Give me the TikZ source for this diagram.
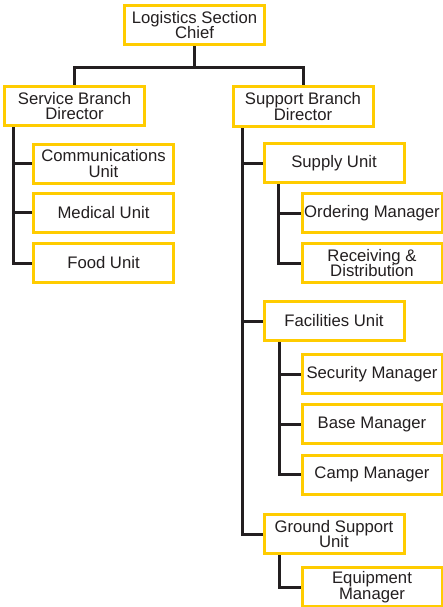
\documentclass[tikz,border=0pt]{standalone}
\usepackage{fontspec}
\setmainfont{Liberation Sans}
\usetikzlibrary{backgrounds}
\definecolor{boxyellow}{HTML}{FFCC00}
\definecolor{ink}{HTML}{231F20}
\tikzset{
  unitbox/.style={draw=boxyellow, line width=3pt, fill=white, minimum width=140pt, minimum height=39pt, inner sep=0pt, align=center, text=ink, font=\fontsize{16.7}{15.7}\selectfont},
  link/.style={draw=ink, line width=3pt}
}
\begin{document}
\begin{tikzpicture}[x=1pt,y=-1pt]
\useasboundingbox (0,0) rectangle (443,607);
\node[unitbox] (chief) at (194.5,25) {Logistics Section\\Chief};
\node[unitbox] (service) at (74.5,106) {Service Branch\\Director};
\node[unitbox] (support) at (303,106.5) {Support Branch\\Director};
\node[unitbox] (comm) at (103.5,163.5) {Communications\\Unit};
\node[unitbox] (medical) at (103.5,212.5) {Medical Unit};
\node[unitbox] (food) at (103.5,263) {Food Unit};
\node[unitbox] (supply) at (334,163) {Supply Unit};
\node[unitbox] (ordering) at (372,213) {Ordering Manager};
\node[unitbox] (receiving) at (372,263) {Receiving \&\\Distribution};
\node[unitbox] (facilities) at (334,321) {Facilities Unit};
\node[unitbox] (security) at (372,374) {Security Manager};
\node[unitbox] (base) at (372,424) {Base Manager};
\node[unitbox] (camp) at (372,474.5) {Camp Manager};
\node[unitbox] (ground) at (334,534) {Ground Support\\Unit};
\node[unitbox] (equipment) at (372,587) {Equipment\\Manager};
\begin{scope}[on background layer]
\draw[link] (chief.south) -- ++(0,22) -| (service.north);
\draw[link] (chief.south) -- ++(0,22) -| (support.north);
\draw[link] ([xshift=10pt]service.south west) |- (food.west);
\draw[link] ([xshift=10pt]service.south west) |- (comm.west);
\draw[link] ([xshift=10pt]service.south west) |- (medical.west);
\draw[link] ([xshift=10.5pt]support.south west) |- (ground.west);
\draw[link] ([xshift=10.5pt]support.south west) |- (supply.west);
\draw[link] ([xshift=10.5pt]support.south west) |- (facilities.west);
\draw[link] ([xshift=16pt]supply.south west) |- (receiving.west);
\draw[link] ([xshift=16pt]supply.south west) |- (ordering.west);
\draw[link] ([xshift=16.5pt]facilities.south west) |- (camp.west);
\draw[link] ([xshift=16.5pt]facilities.south west) |- (security.west);
\draw[link] ([xshift=16.5pt]facilities.south west) |- (base.west);
\draw[link] ([xshift=17pt]ground.south west) |- (equipment.west);
\end{scope}
\end{tikzpicture}
\end{document}
